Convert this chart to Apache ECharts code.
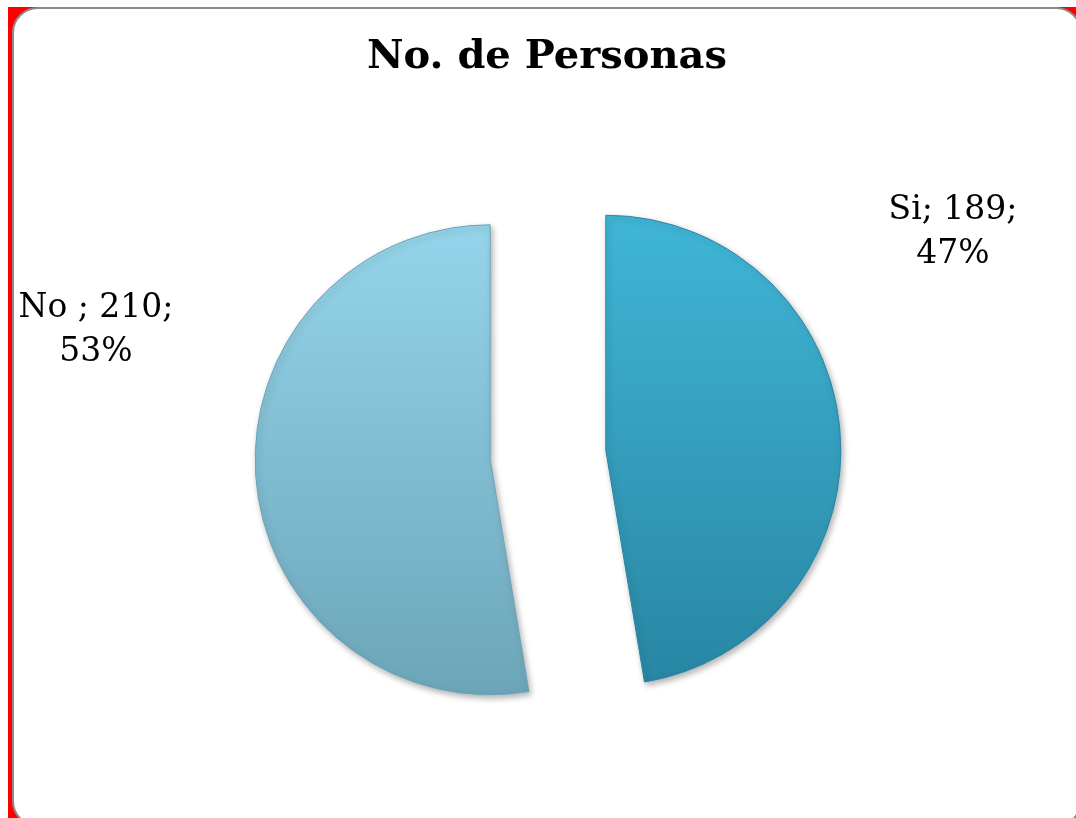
<!DOCTYPE html>
<html>
<head>
<meta charset="utf-8">
<script src="https://cdn.jsdelivr.net/npm/echarts@6/dist/echarts.min.js"></script>
<style>
  html, body { margin: 0; padding: 0; background: #fff; overflow: hidden; }
  #back { position: absolute; left: 8px; top: 7px; width: 1100px; height: 840px; background: #ff0000; }
  #frame { position: absolute; left: 12px; top: 7px; width: 1066px; height: 816px; background: #fff;
           border: 2px solid #8c8c8c; border-radius: 26px; }
  #chart { position: absolute; left: 0; top: 0; width: 1076px; height: 818px; }
</style>
</head>
<body>
<div id="back"></div>
<div id="frame"></div>
<div id="chart"></div>
<script>
const categories = ['Si', 'No '];
const personas = [189, 210];

// gradient colours per slice (top, bottom)
const sliceColors = [
  ['#40b6d6', '#2886a3'],
  ['#95d4ea', '#6ca5b8']
];
// where each label sits (Excel placed them by hand)
const labelPos = [
  [953, 232],
  [96, 330]
];

const total = personas.reduce((a, b) => a + b, 0);

const chart = echarts.init(document.getElementById('chart'));

const option = {
  title: {
    text: 'No. de Personas',
    left: 542,
    top: 33,
    textAlign: 'center',
    textStyle: {
      fontFamily: 'DejaVu Serif',
      fontWeight: 'bold',
      fontSize: 40,
      color: '#000'
    }
  },
  // data labels, positioned like the original
  graphic: categories.map((name, i) => ({
    type: 'text',
    x: labelPos[i][0],
    y: labelPos[i][1],
    silent: true,
    style: {
      text: name + '; ' + personas[i] + ';\n' + Math.round(personas[i] / total * 100) + '%',
      font: '33px "DejaVu Serif"',
      lineHeight: 44,
      fill: '#000',
      align: 'center',
      verticalAlign: 'middle'
    }
  })),
  series: [
    {
      type: 'pie',
      center: [548, 455],
      radius: 235,
      startAngle: 90,
      clockwise: true,
      selectedMode: 'multiple',
      selectedOffset: 58,
      animation: false,
      data: categories.map((name, i) => ({
        name: name,
        value: personas[i],
        selected: true,
        itemStyle: {
          color: new echarts.graphic.LinearGradient(0, 0, 0, 1, [
            { offset: 0, color: sliceColors[i][0] },
            { offset: 1, color: sliceColors[i][1] }
          ]),
          borderColor: sliceColors[i][1],
          borderWidth: 1,
          shadowBlur: 6,
          shadowOffsetX: 2,
          shadowOffsetY: 3,
          shadowColor: 'rgba(0,0,0,0.3)'
        }
      })),
      label: { show: false },
      labelLine: { show: false },
      emphasis: { disabled: true }
    }
  ]
};

chart.setOption(option);
</script>
</body>
</html>
